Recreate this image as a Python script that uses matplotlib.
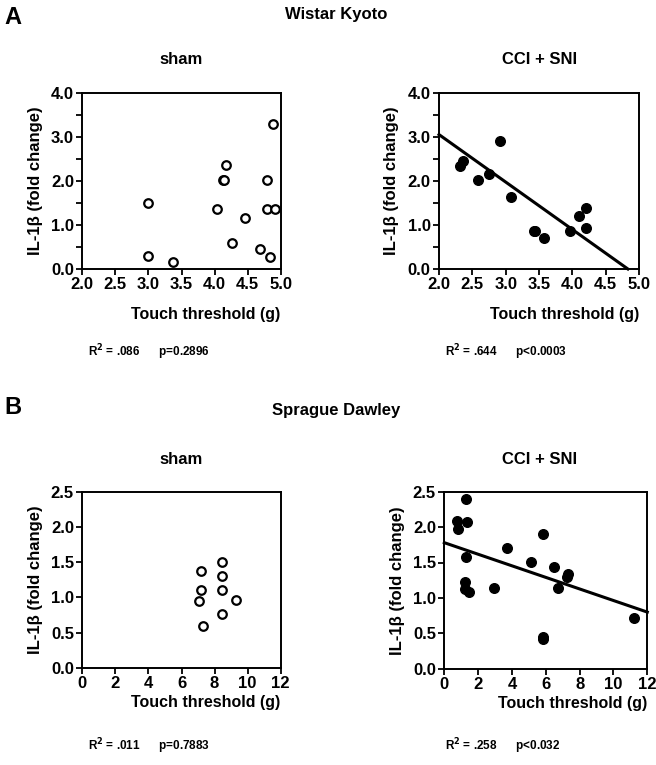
import numpy as np
import matplotlib
matplotlib.use("Agg")
import matplotlib.pyplot as plt

plt.rcParams["font.family"] = ["Liberation Sans", "DejaVu Sans"]
plt.rcParams["font.weight"] = "bold"

# Wistar Kyoto, sham
wkyShamX = [3.0, 3.0, 3.37, 4.03, 4.12, 4.15, 4.17, 4.26, 4.46, 4.69, 4.80, 4.79, 4.88, 4.92, 4.84]
wkyShamY = [1.50, 0.30, 0.15, 1.37, 2.02, 2.02, 2.36, 0.60, 1.15, 0.45, 2.02, 1.37, 3.29, 1.37, 0.28]

# Wistar Kyoto, CCI + SNI
wkyCciX = [2.32, 2.36, 2.58, 2.75, 2.91, 3.08, 3.42, 3.44, 3.58, 3.97, 4.10, 4.21, 4.21]
wkyCciY = [2.35, 2.47, 2.03, 2.16, 2.92, 1.65, 0.87, 0.87, 0.71, 0.87, 1.21, 1.40, 0.94]
wkyFit = [-1.08, 5.22]  # slope, intercept

# Sprague Dawley, sham
sdShamX = [7.16, 7.16, 7.04, 7.28, 8.43, 8.43, 8.43, 8.43, 9.27]
sdShamY = [1.37, 1.10, 0.95, 0.60, 1.50, 1.31, 1.10, 0.76, 0.96]

# Sprague Dawley, CCI + SNI
sdCciX = [0.77, 0.81, 1.28, 1.34, 1.28, 1.20, 1.24, 1.44, 2.94, 3.72, 5.12, 5.85, 5.85, 5.85,
          6.50, 6.74, 7.27, 7.33, 11.19]
sdCciY = [2.08, 1.97, 2.39, 2.07, 1.58, 1.22, 1.13, 1.08, 1.14, 1.70, 1.51, 1.90, 0.45, 0.42,
          1.44, 1.14, 1.30, 1.34, 0.72]
sdFit = [-0.0817, 1.78]

statsText = ["R$^2$ = .086      p=0.2896", "R$^2$ = .644      p<0.0003",
             "R$^2$ = .011      p=0.7883", "R$^2$ = .258      p<0.032"]

fig = plt.figure(figsize=(6.56, 7.65), dpi=100)
W, H = 656.0, 765.0


def makeAxes(left, right, top, bottom):
    return fig.add_axes([left / W, 1 - bottom / H, (right - left) / W, (bottom - top) / H])


def styleAxes(ax, xlim, xticks, xlabels, ylim, yticks, ylabels, yminor, xpad):
    ax.set_xlim(xlim)
    ax.set_ylim(ylim)
    ax.set_xticks(xticks)
    ax.set_xticklabels(xlabels, fontsize=12, fontweight="bold")
    ax.set_yticks(yticks)
    ax.set_yticklabels(ylabels, fontsize=12, fontweight="bold")
    if yminor is not None:
        ax.set_yticks(yminor, minor=True)
    ax.tick_params(which="both", direction="out", length=4, width=1.3, pad=2)
    for s in ax.spines.values():
        s.set_linewidth(1.4)
    ax.set_ylabel("IL-1\u03b2 (fold change)", fontsize=12, fontweight="bold", labelpad=6)
    ax.set_xlabel("Touch threshold (g)", fontsize=11.5, fontweight="bold", labelpad=xpad, loc="right")


xA = [2.0, 2.5, 3.0, 3.5, 4.0, 4.5, 5.0]
xAlab = ["2.0", "2.5", "3.0", "3.5", "4.0", "4.5", "5.0"]
yA = [0, 1, 2, 3, 4]
yAlab = ["0.0", "1.0", "2.0", "3.0", "4.0"]
yAminor = [0.5, 1.5, 2.5, 3.5]
xB = [0, 2, 4, 6, 8, 10, 12]
xBlab = ["0", "2", "4", "6", "8", "10", "12"]
yB = [0, 0.5, 1.0, 1.5, 2.0, 2.5]
yBlab = ["0.0", "0.5", "1.0", "1.5", "2.0", "2.5"]

# A sham
ax1 = makeAxes(82.3, 280.7, 93.3, 269)
ax1.scatter(wkyShamX, wkyShamY, s=38, facecolors="white", edgecolors="black", linewidths=1.6, zorder=3)
styleAxes(ax1, (2.0, 5.0), xA, xAlab, (0, 4), yA, yAlab, yAminor, 10.5)

# A CCI + SNI
ax2 = makeAxes(439, 639, 93.3, 269)
ax2.scatter(wkyCciX, wkyCciY, s=48, color="black", zorder=3)
lineX = np.array([2.0, -wkyFit[1] / wkyFit[0]])
ax2.plot(lineX, wkyFit[0] * lineX + wkyFit[1], color="black", lw=2.2, clip_on=False)
styleAxes(ax2, (2.0, 5.0), xA, xAlab, (0, 4), yA, yAlab, yAminor, 10.5)

# B sham
ax3 = makeAxes(82.3, 280.7, 491.7, 667.8)
ax3.scatter(sdShamX, sdShamY, s=38, facecolors="white", edgecolors="black", linewidths=1.6, zorder=3)
styleAxes(ax3, (0, 12), xB, xBlab, (0, 2.5), yB, yBlab, None, 2.5)

# B CCI + SNI
ax4 = makeAxes(444.3, 647.3, 491.7, 668.7)
ax4.scatter(sdCciX, sdCciY, s=48, color="black", zorder=3)
lineX = np.array([0.0, 12.0])
ax4.plot(lineX, sdFit[0] * lineX + sdFit[1], color="black", lw=2.2, clip_on=False)
styleAxes(ax4, (0, 12), xB, xBlab, (0, 2.5), yB, yBlab, None, 2.5)

# texts
fig.text(4 / W, 1 - 18 / H, "A", fontsize=17, fontweight="bold", va="center")
fig.text(336 / W, 1 - 15 / H, "Wistar Kyoto", fontsize=12, fontweight="bold", ha="center", va="center")
fig.text(181 / W, 1 - 60 / H, "sham", fontsize=12, fontweight="bold", ha="center", va="center")
fig.text(540 / W, 1 - 60 / H, "CCI + SNI", fontsize=12, fontweight="bold", ha="center", va="center")
fig.text(4 / W, 1 - 408 / H, "B", fontsize=17, fontweight="bold", va="center")
fig.text(336 / W, 1 - 410 / H, "Sprague Dawley", fontsize=12, fontweight="bold", ha="center", va="center")
fig.text(181 / W, 1 - 460 / H, "sham", fontsize=12, fontweight="bold", ha="center", va="center")
fig.text(540 / W, 1 - 460 / H, "CCI + SNI", fontsize=12, fontweight="bold", ha="center", va="center")

fig.text(88 / W, 1 - 352 / H, statsText[0], fontsize=8.5, fontweight="bold", va="center")
fig.text(445 / W, 1 - 352 / H, statsText[1], fontsize=8.5, fontweight="bold", va="center")
fig.text(88 / W, 1 - 746 / H, statsText[2], fontsize=8.5, fontweight="bold", va="center")
fig.text(445 / W, 1 - 746 / H, statsText[3], fontsize=8.5, fontweight="bold", va="center")

fig.savefig("out.png", dpi=100)
